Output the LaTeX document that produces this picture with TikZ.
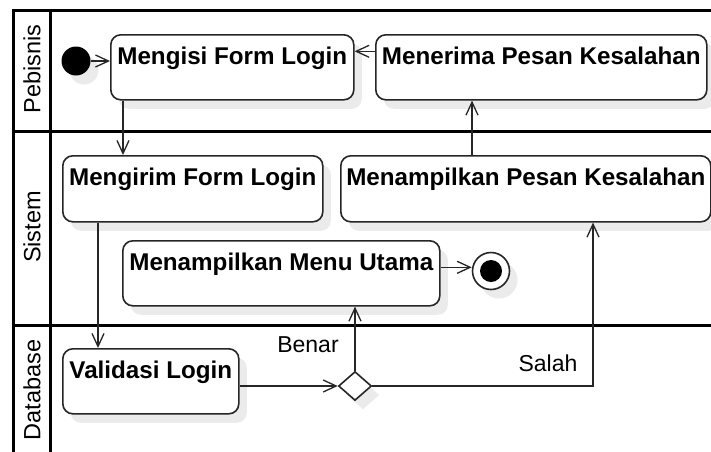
\documentclass[tikz,border=0pt]{standalone}
\usepackage{fontspec}
\setmainfont{Liberation Sans}
\usetikzlibrary{arrows.meta,shapes.geometric,shadows}

\tikzset{
  frame/.style={draw=black, line width=3pt},
  softshadow/.style={drop shadow={shadow xshift=8pt, shadow yshift=-9pt, fill=black!8, opacity=1}},
  act/.style={draw=black!85, line width=1.6pt, rounded corners=10pt, fill=white,
    anchor=north west, inner xsep=0pt, inner ysep=0pt,
    text height=29.5pt, text depth=35.5pt, minimum height=65pt,
    font=\bfseries\fontsize{24.2}{28}\selectfont, softshadow},
  lane/.style={font=\fontsize{23.5}{28}\selectfont, inner sep=0pt},
  lbl/.style={font=\fontsize{23}{28}\selectfont, inner sep=0pt},
  flow/.style={draw=black!85, line width=1.3pt, -{Straight Barb[length=13pt,width=12pt]}},
  startnode/.style={circle, fill=black, minimum size=29pt, inner sep=0pt, softshadow},
  endnode/.style={circle, draw=black!85, line width=1.6pt, fill=white, minimum size=37pt, inner sep=0pt,
    softshadow, path picture={\fill[black] (path picture bounding box.center) circle (11pt);}},
  decision/.style={diamond, draw=black!85, line width=1.6pt, fill=white,
    minimum width=33pt, minimum height=29pt, inner sep=0pt, softshadow}
}

\begin{document}
\begin{tikzpicture}[x=1pt,y=-1pt]
\useasboundingbox (0,0) rectangle (711,451);
\clip (0,0) rectangle (711,451);
\fill[white] (0,0) rectangle (711,451);

% swimlane frame
\draw[frame] (13.7,470) -- (13.7,10.5) -- (720,10.5);
\draw[frame] (50,10.5) -- (50,470);
\draw[frame] (13.7,131) -- (720,131);
\draw[frame] (13.7,325) -- (720,325);

% lane titles
\node[lane, rotate=90] (lanePeb) at (32,69) {Pebisnis};
\node[lane, rotate=90] (laneSis) at (32,227) {Sistem};
\node[lane, rotate=90] (laneDb)  at (32,390) {Database};

% activities
\node[startnode] (start) at (76,61) {};
\node[act, minimum width=243pt] (mengisi)  at (110,34) {Mengisi Form Login};
\node[act, minimum width=331pt] (menerima) at (375,34) {Menerima Pesan Kesalahan};
\node[act, minimum width=260pt, text depth=36.5pt, minimum height=66pt] (mengirim) at (62,155) {Mengirim Form Login};
\node[act, minimum width=370pt, text depth=36.5pt, minimum height=66pt] (tampilpesan) at (340,155) {Menampilkan Pesan Kesalahan};
\node[act, minimum width=317pt] (menu) at (122,240) {Menampilkan Menu Utama};
\node[endnode] (end) at (491,271) {};
\node[act, minimum width=176pt] (validasi) at (62,348) {Validasi Login};
\node[decision] (dec) at (355,386) {};

% guard labels
\node[lbl] (benar) at (308,345) {Benar};
\node[lbl] (salah) at (548,363) {Salah};

% control flow
\draw[flow] (start) -- (start -| mengisi.west);
\draw[flow] ([yshift=16pt]menerima.west) -- ([yshift=16pt]mengisi.east);
\draw[flow] ([xshift=13pt]mengisi.south west) -- ([xshift=13pt]mengisi.south west |- mengirim.north);
\draw[flow] ([xshift=97pt]menerima.south west |- tampilpesan.north) -- ([xshift=97pt]menerima.south west);
\draw[flow] ([yshift=6pt]menu.east) -- ([yshift=6pt]menu.east -| end.west);
\draw[flow] ([xshift=36pt]mengirim.south west) -- ([xshift=36pt]mengirim.south west |- validasi.north);
\draw[flow] (validasi.east |- dec.west) -- (dec.west);
\draw[flow] (dec.north) -- (dec.north |- menu.south);
\draw[flow] (dec.east) -| ([xshift=253pt]tampilpesan.south west);
\end{tikzpicture}
\end{document}
